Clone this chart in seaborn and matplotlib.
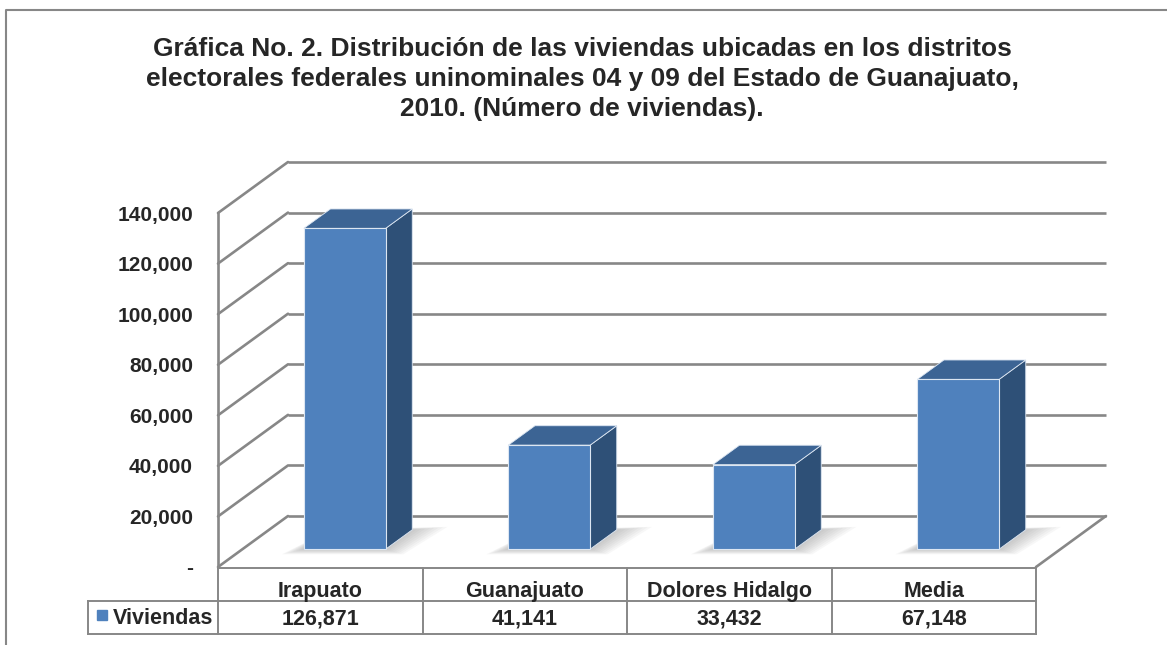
import matplotlib.pyplot as plt
import matplotlib.lines as mlines
from matplotlib.patches import Polygon
import seaborn as sns

# datos
municipios = ["Irapuato", "Guanajuato", "Dolores Hidalgo", "Media"]
viviendas = [126871, 41141, 33432, 67148]
serie = "Viviendas"
ticks = [0, 20000, 40000, 60000, 80000, 100000, 120000, 140000]
tick_labels = ["-", "20,000", "40,000", "60,000", "80,000", "100,000", "120,000", "140,000"]
titulo = ("Gráfica No. 2. Distribución de las viviendas ubicadas en los distritos\n"
          "electorales federales uninominales 04 y 09 del Estado de Guanajuato,\n"
          "2010. (Número de viviendas).")

azul = "#4f81bd"
azul_top = "#3c6494"
azul_lado = "#2e5077"
gris = "#878787"

sns.set_style("white")
plt.rcParams["font.family"] = ["Liberation Sans", "DejaVu Sans"]
plt.rcParams["font.weight"] = "bold"

W, H = 1167, 645
fig = plt.figure(figsize=(W / 100, H / 100), dpi=100)


def rect(l, t, r, b):
    return [l / W, 1 - b / H, (r - l) / W, (b - t) / H]


# escala de pixeles del grafico 3d
ux = 204.5            # px por categoria
uy = 354 / 140000     # px por vivienda
dxf, dyf = 70 / ux, 51 / uy          # profundidad total (pared del fondo)
dxb, dyb = 0.35 * dxf, 0.35 * dyf    # cara frontal de las barras
dxd, dyd = 0.38 * dxf, 0.38 * dyf    # fondo de las barras
ymax = 140000 + dyf
xmax = 3.5 + dxf

ax = fig.add_axes(rect(218, 567 - ymax * uy, 218 + (xmax + 0.5) * ux, 567))

sns.barplot(x=municipios, y=viviendas, color=azul, saturation=1, width=0.4,
            edgecolor="#dce6f2", linewidth=0.8, zorder=4, ax=ax)

# paredes y lineas de cuadricula
for v in ticks:
    ax.plot([-0.5 + dxf, xmax], [v + dyf, v + dyf], color=gris, lw=1.9,
            zorder=1, clip_on=False, solid_capstyle="butt")
    ax.plot([-0.5, -0.5 + dxf], [v, v + dyf], color=gris, lw=1.9,
            zorder=1, clip_on=False)
ax.plot([-0.5, -0.5], [0, 140000], color=gris, lw=1.9, zorder=1, clip_on=False)
ax.plot([3.5, xmax], [0, dyf], color=gris, lw=1.9, zorder=1, clip_on=False)

# barras en 3d: mover la cara frontal y agregar techo y lado
for p in ax.patches:
    x0 = p.get_x() + dxb
    w = p.get_width()
    h = p.get_height()
    p.set_x(x0)
    p.set_y(dyb)
    # sombra difusa en el piso
    for k in range(8):
        e = 0.009 * (8 - k)
        ey = e * ux / uy
        sh = [(x0 - e * 1.5, dyb - ey * 0.35), (x0 + w + e * 1.2, dyb - ey * 0.35),
              (x0 + w + dxd + e * 2.4, dyb + dyd + ey * 0.2), (x0 + dxd, dyb + dyd)]
        ax.add_patch(Polygon(sh, closed=True, facecolor="#808080", alpha=0.06,
                             lw=0, zorder=2))
    top = [(x0, dyb + h), (x0 + w, dyb + h), (x0 + w + dxd, dyb + h + dyd),
           (x0 + dxd, dyb + h + dyd)]
    lado = [(x0 + w, dyb), (x0 + w + dxd, dyb + dyd), (x0 + w + dxd, dyb + h + dyd),
            (x0 + w, dyb + h)]
    ax.add_patch(Polygon(lado, closed=True, facecolor=azul_lado, edgecolor="#dce6f2",
                         lw=0.6, zorder=3))
    ax.add_patch(Polygon(top, closed=True, facecolor=azul_top, edgecolor="#dce6f2",
                         lw=0.6, zorder=3))

ax.set_xlim(-0.5, xmax)
ax.set_ylim(0, ymax)
ax.set_xticks([])
ax.set_xlabel("")
ax.set_ylabel("")
ax.set_yticks(ticks, tick_labels, fontsize=15, fontweight="bold")
ax.tick_params(axis="y", length=0, pad=18)
ax.patch.set_alpha(0)
sns.despine(ax=ax, left=True, bottom=True)

# tabla de datos
izq = -0.5 - 130 / ux
axt = fig.add_axes(rect(88, 568, 1036, 634))
axt.set_xlim(izq, 3.5)
axt.set_ylim(0, 2)
axt.axis("off")
kw = dict(color=gris, lw=1.4, clip_on=False, solid_capstyle="projecting")
axt.plot([-0.5, 3.5], [2, 2], **kw)
axt.plot([izq, 3.5], [1, 1], **kw)
axt.plot([izq, 3.5], [0, 0], **kw)
axt.plot([izq, izq], [0, 1], **kw)
for i in range(len(municipios) + 1):
    axt.plot([i - 0.5, i - 0.5], [0, 2], **kw)
for i, (m, v) in enumerate(zip(municipios, viviendas)):
    axt.text(i, 1.12, m, ha="center", va="baseline", fontsize=15.5, fontweight="bold")
    axt.text(i, 0.30, f"{v:,}", ha="center", va="baseline", fontsize=15.5, fontweight="bold")
axt.plot([izq + 14 / ux], [0.58], marker="s", markersize=6.5, color=azul, clip_on=False)
axt.text(izq + 25 / ux, 0.30, serie, ha="left", va="baseline", fontsize=15.5, fontweight="bold")

# titulo y marco
fig.text(582 / W, 1 - 79 / H, titulo, ha="center", va="center", fontsize=19,
         fontweight="bold", linespacing=1.3)
fig.add_artist(mlines.Line2D([6 / W, 6 / W, 1], [0, 1 - 10 / H, 1 - 10 / H],
                             color=gris, lw=1.5))

fig.savefig("out.png", dpi=100)
